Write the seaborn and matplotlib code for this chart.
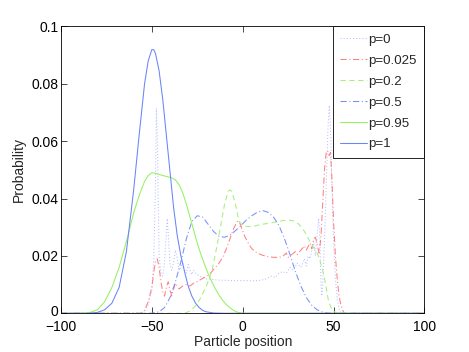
import numpy as np
import pandas as pd
import matplotlib
matplotlib.use("Agg")
import matplotlib.pyplot as plt
import matplotlib.transforms as mtransforms
from matplotlib.lines import Line2D
import seaborn as sns

# ---------------- data ----------------
labels = ["p=0", "p=0.025", "p=0.2", "p=0.5", "p=0.95", "p=1"]

x_p0 = [-100, -56, -54, -52, -50, -49, -48, -47.5, -47, -46.5, -46, -45, -44, -43, -42, -41.5, -41,
        -40, -39, -38, -37, -36, -35, -34, -33, -32, -31, -30, -29, -28, -27, -26, -24, -22, -20,
        -17, -14, -10, -6, -2, 2, 6, 10, 13, 16, 18, 20, 22, 24, 26, 28, 30, 32, 34, 35, 36, 37, 38,
        39, 40, 41, 41.8, 42.5, 43, 43.5, 44, 45, 46, 47, 47.7, 48.3, 49, 50, 51, 52, 53, 54, 100]
y_p0 = [0, 0, 0.0008, 0.003, 0.008, 0.018, 0.045, 0.0715, 0.062, 0.04, 0.02, 0.014, 0.013, 0.018,
        0.028, 0.033, 0.028, 0.017, 0.015, 0.018, 0.022, 0.019, 0.015, 0.016, 0.018, 0.015, 0.014,
        0.017, 0.015, 0.0135, 0.015, 0.014, 0.013, 0.0125, 0.012, 0.0118, 0.0116, 0.0115, 0.0114,
        0.0114, 0.0114, 0.0113, 0.0115, 0.012, 0.013, 0.0125, 0.014, 0.0145, 0.014, 0.016, 0.015,
        0.0175, 0.016, 0.019, 0.0165, 0.02, 0.019, 0.022, 0.025, 0.02, 0.028, 0.033, 0.025, 0.012,
        0.006, 0.01, 0.025, 0.045, 0.066, 0.0725, 0.065, 0.045, 0.025, 0.012, 0.005, 0.0015, 0, 0]

x_p0025 = [-100, -56, -54, -52, -50, -49, -48, -47, -46, -45, -44, -43, -42, -41, -40, -39, -38, -37,
           -36, -35, -33, -31, -29, -27, -25, -23, -21, -19, -17, -15, -13, -11, -9, -7, -5, -3, -2,
           -1, 1, 3, 5, 8, 11, 14, 17, 20, 22, 24, 25, 27, 29, 30, 32, 34, 35, 37, 38, 39, 40, 41,
           42, 43, 44, 45, 46, 46.8, 47.5, 48.3, 49, 50, 51, 52, 53, 54, 55, 56, 100]
y_p0025 = [0, 0, 0.001, 0.004, 0.009, 0.014, 0.018, 0.019, 0.016, 0.011, 0.0075, 0.006, 0.009, 0.011,
           0.008, 0.006, 0.0085, 0.0105, 0.0095, 0.0085, 0.0095, 0.010, 0.0095, 0.0105, 0.011,
           0.0118, 0.0125, 0.0132, 0.0145, 0.016, 0.0175, 0.0195, 0.0225, 0.026, 0.0295, 0.032,
           0.032, 0.0305, 0.027, 0.0245, 0.0225, 0.021, 0.0202, 0.0197, 0.0195, 0.0195, 0.0198,
           0.021, 0.0195, 0.0205, 0.0215, 0.0205, 0.022, 0.0235, 0.022, 0.0245, 0.0225, 0.026,
           0.0265, 0.024, 0.021, 0.026, 0.038, 0.05, 0.0565, 0.0565, 0.055, 0.056, 0.048, 0.032,
           0.02, 0.012, 0.006, 0.003, 0.001, 0, 0]

x_p02 = [-100, -32, -29, -26, -23, -20, -17, -14, -12, -10, -8, -7, -6, -4, -2, 0, 3, 6, 10, 14, 18,
         22, 25, 28, 31, 34, 37, 40, 42, 44, 45.5, 47, 48.5, 50, 52, 54, 100]
y_p02 = [0, 0, 0.0008, 0.0025, 0.0055, 0.0095, 0.0145, 0.024, 0.031, 0.038, 0.0425, 0.043, 0.0425,
         0.038, 0.032, 0.0305, 0.0302, 0.0303, 0.031, 0.0313, 0.0318, 0.0323, 0.0325, 0.0322,
         0.031, 0.0285, 0.025, 0.022, 0.0195, 0.015, 0.0105, 0.005, 0.002, 0.0007, 0.0001, 0, 0]

x_p05 = [-100, -50, -46, -43, -40, -37, -34, -31, -28, -25, -22, -19, -16, -13, -10, -7, -4, -1, 2,
         5, 8, 11, 14, 17, 20, 23, 26, 29, 32, 35, 38, 41, 44, 47, 50, 100]
y_p05 = [0, 0, 0.0005, 0.002, 0.0055, 0.011, 0.018, 0.026, 0.032, 0.034, 0.0335, 0.031, 0.0285,
         0.0268, 0.0265, 0.0272, 0.0288, 0.0305, 0.0325, 0.034, 0.0352, 0.0358, 0.0352, 0.0335,
         0.0305, 0.026, 0.0205, 0.0145, 0.0095, 0.0055, 0.0028, 0.0012, 0.0004, 0.0001, 0, 0]

x_p095 = [-100, -88, -84, -80, -76, -72, -68, -64, -60, -57, -54, -52, -50, -48, -45, -42, -39, -37,
          -35, -33, -31, -29, -27, -25, -23, -21, -19, -17, -15, -13, -11, -9, -7, -5, -3, -1, 1, 100]
y_p095 = [0, 0, 0.0003, 0.0012, 0.004, 0.009, 0.016, 0.025, 0.035, 0.041, 0.046, 0.048, 0.049,
          0.0488, 0.0482, 0.0477, 0.0472, 0.0465, 0.0448, 0.042, 0.038, 0.0335, 0.029, 0.0245,
          0.0205, 0.017, 0.0138, 0.011, 0.0085, 0.0063, 0.0045, 0.003, 0.0019, 0.001, 0.0004,
          0.0001, 0, 0]

x_p1 = [-100, -85, -80, -76, -72, -68, -64, -60, -57, -54, -52, -50, -49, -48, -46, -44, -42, -40,
        -38, -36, -34, -32, -30, -28, -26, -24, -22, -20, -16, -10, 100]
y_p1 = [0, 0, 0.0003, 0.0012, 0.0035, 0.009, 0.0215, 0.043, 0.062, 0.080, 0.088, 0.0919, 0.0919,
        0.0906, 0.0845, 0.0746, 0.062, 0.0493, 0.0367, 0.027, 0.02, 0.0145, 0.0095, 0.006, 0.0036,
        0.002, 0.001, 0.0005, 0.0001, 0, 0]

xs = [x_p0, x_p0025, x_p02, x_p05, x_p095, x_p1]
ys = [y_p0, y_p0025, y_p02, y_p05, y_p095, y_p1]

x_ticks = [-100, -50, 0, 50, 100]
y_ticks = [0, 0.02, 0.04, 0.06, 0.08, 0.1]
y_tick_labels = ["0", "0.02", "0.04", "0.06", "0.08", "0.1"]

# ---------------- styling ----------------
colors = ["#b8bfff", "#ff8080", "#a4f078", "#7890fa", "#94f25e", "#6a84fa"]
styles = [(0, (1, 2)), (0, (6, 2.5, 1, 2.5)), (0, (5, 3.5)), (0, (6, 2.5, 1, 2.5)), "-", "-"]
lw = 0.75

sns.set_style("ticks")
plt.rcParams["font.family"] = ["Liberation Sans", "DejaVu Sans"]
plt.rcParams["axes.unicode_minus"] = True

fig = plt.figure(figsize=(4.69, 3.52), dpi=100)
ax = fig.add_axes([0.13, 0.11, 0.775, 0.815])

frames = []
for lab, xv, yv in zip(labels, xs, ys):
    frames.append(pd.DataFrame({"x": xv, "y": yv, "series": lab}))
df = pd.concat(frames, ignore_index=True)

for lab, col, ls in zip(labels, colors, styles):
    sub = df[df["series"] == lab]
    sns.lineplot(data=sub, x="x", y="y", ax=ax, color=col, linestyle=ls,
                 linewidth=lw, estimator=None, sort=False, legend=False)

ax.set_xlim(-100, 100)
ax.set_ylim(0, 0.1)
ax.set_xticks(x_ticks)
ax.set_xticklabels([("\u2212" + str(abs(v))) if v < 0 else str(v) for v in x_ticks])
ax.set_yticks(y_ticks)
ax.set_yticklabels(y_tick_labels)
ax.tick_params(direction="in", length=4, width=0.5, top=True, right=True,
               labelsize=10, colors="black")
ax.tick_params(axis="x", pad=5)
ax.tick_params(axis="y", pad=2)
for s in ax.spines.values():
    s.set_visible(True)
    s.set_linewidth(0.6)
    s.set_color("black")

# lift the "0" y tick label a little, as in the reference
ylabs = ax.get_yticklabels()
ylabs[0].set_transform(ylabs[0].get_transform() +
                       mtransforms.ScaledTranslation(0, 2 / 72, fig.dpi_scale_trans))

ax.set_xlabel("Particle position", fontsize=10, labelpad=0.5)
ax.set_ylabel("Probability", fontsize=10, labelpad=4)

handles = [Line2D([0], [0], color=c, linestyle=s, linewidth=lw) for c, s in zip(colors, styles)]
leg = ax.legend(handles, labels, loc="upper right", borderaxespad=0, fontsize=9.6,
                handlelength=2.0, handletextpad=0.15, labelspacing=0.64, frameon=True,
                fancybox=False, borderpad=0.55)
leg.get_frame().set_edgecolor("black")
leg.get_frame().set_linewidth(0.6)
leg.get_frame().set_alpha(1)

fig.savefig("out.png", dpi=100, facecolor="white")
